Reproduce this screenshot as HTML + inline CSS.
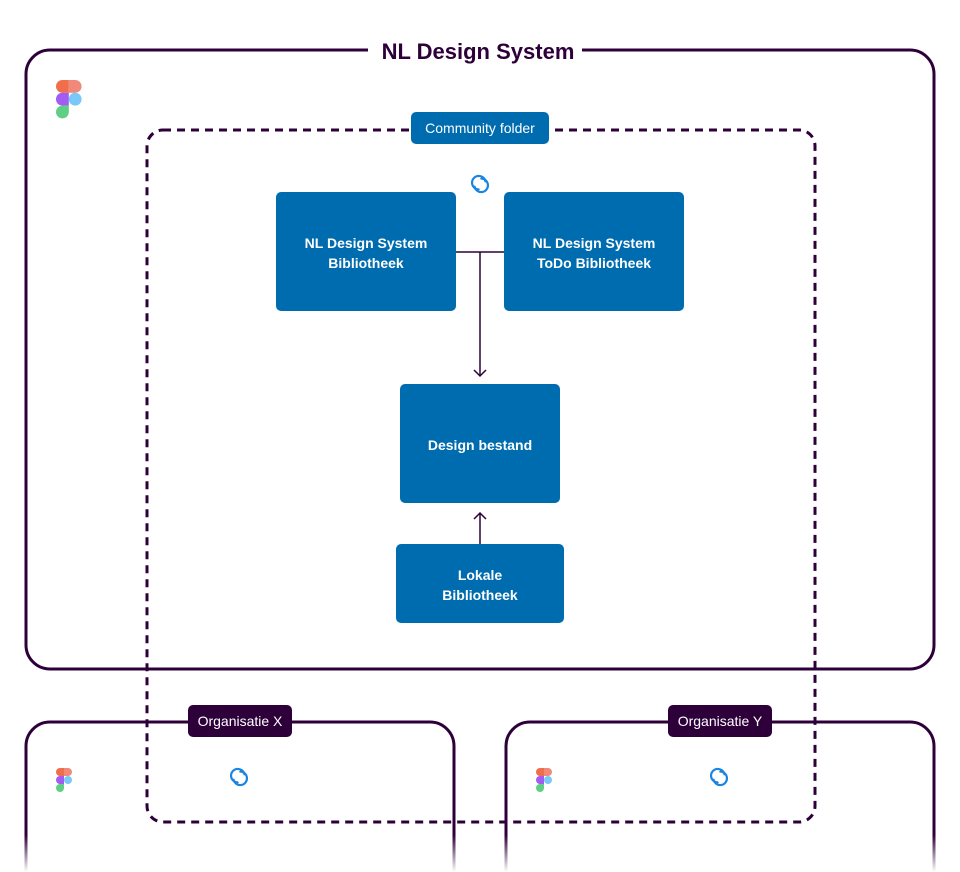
<!DOCTYPE html>
<html><head><style>html,body{margin:0;padding:0;background:#fff}svg{display:block}text{font-family:"Liberation Sans",sans-serif}</style></head><body>
<svg width="960" height="872" viewBox="0 0 960 872" xmlns="http://www.w3.org/2000/svg">
<defs>
<linearGradient id="wf" x1="0" y1="0" x2="0" y2="1">
<stop offset="0" stop-color="#fff" stop-opacity="0"/><stop offset="1" stop-color="#fff" stop-opacity="1"/></linearGradient>
<g id="fig">
<rect x="0" y="0" width="8" height="8" rx="4" fill="#f06e4c"/><rect x="4" y="0" width="4" height="8" fill="#f06e4c"/>
<rect x="8" y="0" width="8" height="8" rx="4" fill="#f0897a"/><rect x="8" y="0" width="4" height="8" fill="#f0897a"/>
<rect x="0" y="8" width="8" height="8" rx="4" fill="#a25cf2"/><rect x="4" y="8" width="4" height="8" fill="#a25cf2"/>
<circle cx="12" cy="12" r="4" fill="#79c8f7"/>
<rect x="0" y="16" width="8" height="8" rx="4" fill="#5fcf86"/><rect x="4" y="16" width="4" height="4" fill="#5fcf86"/>
</g>
<g id="link" fill="none" stroke="#1a84e0" stroke-width="1.6" stroke-linecap="round">
<path d="M-1,4 A5,5 0 1 1 4,-2"/><path d="M1,-4 A5,5 0 1 1 -4,2"/>
</g>
</defs>
<path d="M368,50 H50 A24,24 0 0 0 26,74 V645 A24,24 0 0 0 50,669 H910 A24,24 0 0 0 934,645 V74 A24,24 0 0 0 910,50 H582" fill="none" stroke="#2d003a" stroke-width="3"/>
<text x="478" y="59" text-anchor="middle" font-size="22" font-weight="bold" fill="#2d003a">NL Design System</text>
<use href="#fig" transform="translate(56,80) scale(1.6)"/>
<path d="M26,872 V746 A24,24 0 0 1 50,722 H430 A24,24 0 0 1 454,746 V872" fill="none" stroke="#2d003a" stroke-width="3"/>
<path d="M506,872 V746 A24,24 0 0 1 530,722 H910 A24,24 0 0 1 934,746 V872" fill="none" stroke="#2d003a" stroke-width="3"/>
<rect x="0" y="835" width="960" height="37" fill="url(#wf)"/>
<rect x="147" y="130" width="668" height="692" rx="16" fill="none" stroke="#2d003a" stroke-width="3" stroke-dasharray="8 6"/>
<rect x="411" y="112" width="138" height="32" rx="5" fill="#006cb0"/>
<text x="480" y="133" text-anchor="middle" font-size="14" fill="#fff">Community folder</text>
<use href="#link" transform="translate(480,184) scale(1.35)"/>
<rect x="188" y="705" width="104" height="32" rx="5" fill="#2d003a"/>
<text x="240" y="726" text-anchor="middle" font-size="14" fill="#fff">Organisatie X</text>
<rect x="668" y="705" width="104" height="32" rx="5" fill="#2d003a"/>
<text x="720" y="726" text-anchor="middle" font-size="14" fill="#fff">Organisatie Y</text>
<use href="#fig" x="56" y="768"/>
<use href="#fig" x="536" y="768"/>
<use href="#link" transform="translate(239,777) scale(1.35)"/>
<use href="#link" transform="translate(719,777) scale(1.35)"/>
<path d="M456,252 H504 M480,252 V376" stroke="#2d003a" stroke-width="1.5" fill="none"/>
<path d="M474,370 L480,376 L486,370" stroke="#2d003a" stroke-width="1.5" fill="none"/>
<path d="M480,544 V513 M474,519 L480,513 L486,519" stroke="#2d003a" stroke-width="1.5" fill="none"/>
<g fill="#006cb0">
<rect x="276" y="192" width="180" height="119" rx="5"/>
<rect x="504" y="192" width="180" height="119" rx="5"/>
<rect x="400" y="384" width="160" height="119" rx="5"/>
<rect x="396" y="544" width="168" height="79" rx="5"/>
</g>
<g fill="#fff" font-size="14" font-weight="bold" text-anchor="middle">
<text x="366" y="248">NL Design System</text><text x="366" y="268">Bibliotheek</text>
<text x="594" y="248">NL Design System</text><text x="594" y="268">ToDo Bibliotheek</text>
<text x="480" y="450">Design bestand</text>
<text x="480" y="580">Lokale</text><text x="480" y="600">Bibliotheek</text>
</g>
</svg>
</body></html>
